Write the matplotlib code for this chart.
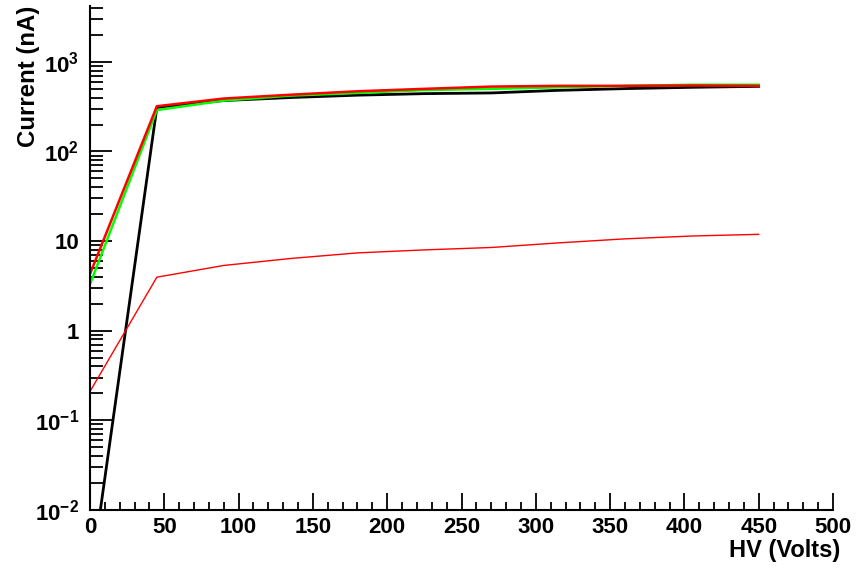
import matplotlib
matplotlib.use("Agg")
import matplotlib.pyplot as plt
from matplotlib.ticker import FixedLocator, LogLocator, NullFormatter, MultipleLocator

plt.rcParams['font.family'] = ['Liberation Sans', 'DejaVu Sans']
plt.rcParams['mathtext.fontset'] = 'custom'
plt.rcParams['mathtext.rm'] = 'Liberation Sans:bold'
plt.rcParams['mathtext.bf'] = 'Liberation Sans:bold'
plt.rcParams['mathtext.it'] = 'Liberation Sans:bold'

hv = [0, 45, 90, 135, 180, 225, 270, 315, 360, 405, 450]
black = [0.0015, 310, 370, 400, 425, 442, 450, 481, 503, 520, 533]
red_hi = [4.3, 320, 390, 430, 470, 500, 530, 540, 540, 545, 540]
green_hi = [3.3, 290, 370, 420, 450, 485, 500, 520, 540, 555, 555]
red_lo = [0.21, 3.96, 5.35, 6.40, 7.39, 7.98, 8.49, 9.55, 10.6, 11.4, 11.9]

ytick_vals = [1e-2, 1e-1, 1, 10, 1e2, 1e3]
ytick_labels = [r'$10^{-2}$', r'$10^{-1}$', '1', '10', r'$10^{2}$', r'$10^{3}$']
xtick_vals = [0, 50, 100, 150, 200, 250, 300, 350, 400, 450, 500]

fig = plt.figure(figsize=(8.63, 5.68), dpi=100)
ax = fig.add_axes([90/863, 1-510/568, (833-90)/863, 504/568])

ax.plot(hv, black, color='black', lw=2.0)
ax.plot(hv, green_hi, color='#00ff00', lw=1.8)
ax.plot(hv, red_hi, color='#ff0000', lw=1.8)
ax.plot(hv, red_lo, color='#ff0000', lw=1.0)

ax.set_yscale('log')
ax.set_xlim(0, 500)
ax.set_ylim(1e-2, 4200)

ax.yaxis.set_major_locator(FixedLocator(ytick_vals))
ax.set_yticklabels(ytick_labels)
ax.yaxis.set_minor_locator(LogLocator(base=10, subs=range(2, 10), numticks=20))
ax.yaxis.set_minor_formatter(NullFormatter())
ax.set_xticks(xtick_vals)
ax.set_xticklabels([str(v) for v in xtick_vals])
ax.xaxis.set_minor_locator(MultipleLocator(10))

for s in ['top', 'right']:
    ax.spines[s].set_visible(False)
for s in ['left', 'bottom']:
    ax.spines[s].set_linewidth(1.5)

ax.tick_params(axis='y', which='major', direction='in', length=16, width=1.3, pad=8, labelsize=16)
ax.tick_params(axis='y', which='minor', direction='in', length=9, width=1.3)
ax.tick_params(axis='x', which='major', direction='in', length=12, width=1.3, pad=5, labelsize=16)
ax.tick_params(axis='x', which='minor', direction='in', length=6, width=1.3)
for lab in ax.get_xticklabels() + ax.get_yticklabels():
    lab.set_fontweight('bold')

fig.text(840/863, 1-550/568, 'HV (Volts)', fontsize=17, fontweight='bold',
         ha='right', va='center')
fig.text(29/863, 1-6/568, 'Current (nA)', fontsize=17.3, fontweight='bold',
         ha='center', va='top', rotation=90)

fig.savefig('out.png', dpi=100)
